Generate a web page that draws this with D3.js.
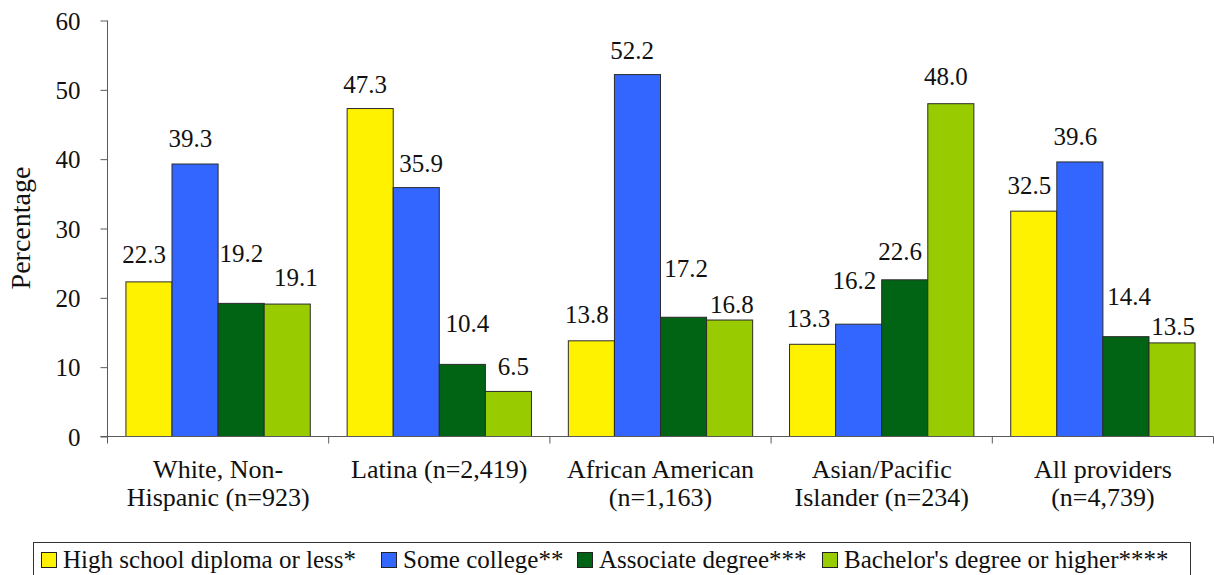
<!DOCTYPE html>
<html>
<head>
<meta charset="utf-8">
<script src="https://cdn.jsdelivr.net/npm/d3@7"></script>
<style>
  html, body { margin: 0; padding: 0; background: #fff; }
  svg { display: block; font-family: "Liberation Serif", "Times New Roman", serif; }
</style>
</head>
<body>
<svg id="chart" width="1214" height="575"></svg>
<script>
// ---- data ----
const categories = ["White", "Latina", "African American", "Asian/Pacific Islander", "All providers"];
const categoryLabels = [
  ["White, Non-", "Hispanic (n=923)"],
  ["Latina (n=2,419)"],
  ["African American", "(n=1,163)"],
  ["Asian/Pacific", "Islander (n=234)"],
  ["All providers", "(n=4,739)"]
];
const seriesNames = ["High school diploma or less*", "Some college**", "Associate degree***", "Bachelor's degree or higher****"];
const highSchool  = [22.3, 47.3, 13.8, 13.3, 32.5];
const someCollege = [39.3, 35.9, 52.2, 16.2, 39.6];
const associate   = [19.2, 10.4, 17.2, 22.6, 14.4];
const bachelor    = [19.1,  6.5, 16.8, 48.0, 13.5];
const yTicks = [0, 10, 20, 30, 40, 50, 60];

// ---- styling / layout constants ----
const seriesColors = ["#FFF200", "#3366FF", "#006414", "#99CC00"];
// label nudges [dx, baseline offset from bar top] per series, per category
const labelNudge = [
  [[-4.8, -18.4], [-5, -15.4], [-4.6, -17.7], [-4.3, -17], [-4.5, -16.7]],
  [[-4.8, -17.3], [5, -15.3], [-5.3, -16], [-4.3, -35], [-4.6, -17.3]],
  [[0.3, -41.7], [5, -32.6], [2.5, -40], [-4.5, -19.7], [3.1, -31.7]],
  [[8.7, -18], [5, -16.7], [2.3, -6.7], [-4.9, -18.7], [1.1, -8.3]]
];
const legendX = [41, 381, 577, 822];

const seriesValues = [highSchool, someCollege, associate, bachelor];
const rows = categories.map((c, i) => ({
  cat: c, i,
  vals: seriesValues.map((arr, s) => ({ s, v: arr[i] }))
}));

const svg = d3.select("#chart");
const axisColor = "#5a5a5a";

const x0 = d3.scaleBand().domain(categories).range([107.5, 1213.5]).paddingInner(0).paddingOuter(0);
const x1 = d3.scaleBand().domain(d3.range(seriesNames.length)).range([0, x0.bandwidth()])
  .paddingInner(0).paddingOuter(0.4);
const y = d3.scaleLinear().domain([0, 60]).range([436.5, 20.5]);

// bars
const groups = svg.append("g").selectAll("g").data(rows).join("g")
  .attr("transform", d => `translate(${x0(d.cat)},0)`);

groups.selectAll("rect").data(d => d.vals).join("rect")
  .attr("x", d => x1(d.s))
  .attr("y", d => y(d.v))
  .attr("width", x1.bandwidth())
  .attr("height", d => y(0) - y(d.v))
  .attr("fill", d => seriesColors[d.s])
  .attr("stroke", "#2b2b2b")
  .attr("stroke-width", 1);

// value labels
groups.each(function(row) {
  d3.select(this).selectAll("text.val").data(row.vals).join("text")
    .attr("class", "val")
    .attr("x", d => x1(d.s) + x1.bandwidth() / 2 + labelNudge[d.s][row.i][0])
    .attr("y", d => y(d.v) + labelNudge[d.s][row.i][1])
    .attr("text-anchor", "middle")
    .attr("font-size", 25)
    .attr("fill", "#111")
    .text(d => d3.format(".1f")(d.v));
});

// y axis
const yAxis = svg.append("g")
  .attr("transform", `translate(${x0.range()[0]},0)`)
  .call(d3.axisLeft(y).tickValues(yTicks).tickSize(7).tickPadding(20).tickFormat(d3.format("d")));
yAxis.select(".domain").attr("stroke", axisColor).attr("d", `M0,${y(60)}V${y(0)}`);
yAxis.selectAll(".tick line").attr("stroke", axisColor);
yAxis.selectAll(".tick text").attr("font-size", 25).attr("fill", "#111")
  .attr("font-family", "Liberation Serif").attr("dy", "0.34em");

// x axis
const xAxis = svg.append("g").attr("transform", `translate(0,${y(0)})`);
xAxis.append("line")
  .attr("x1", x0.range()[0] - 7).attr("x2", x0.range()[1])
  .attr("y1", 0).attr("y2", 0)
  .attr("stroke", axisColor);
const boundaries = categories.map(c => x0(c)).concat([x0(categories[categories.length - 1]) + x0.bandwidth()]);
xAxis.selectAll("line.bt").data(boundaries).join("line")
  .attr("class", "bt")
  .attr("x1", d => d).attr("x2", d => d)
  .attr("y1", 0).attr("y2", 7)
  .attr("stroke", axisColor);

// category labels
const catText = svg.append("g").selectAll("text").data(categories).join("text")
  .attr("x", (d) => x0(d) + x0.bandwidth() / 2)
  .attr("y", 478)
  .attr("text-anchor", "middle")
  .attr("font-size", 26)
  .attr("fill", "#111");
catText.each(function(d, i) {
  d3.select(this).selectAll("tspan").data(categoryLabels[i]).join("tspan")
    .attr("x", x0(d) + x0.bandwidth() / 2)
    .attr("dy", (t, j) => j === 0 ? 0 : 28)
    .text(t => t);
});

// y axis title
svg.append("text")
  .attr("transform", "translate(30,228) rotate(-90)")
  .attr("text-anchor", "middle")
  .attr("font-size", 28)
  .attr("fill", "#111")
  .text("Percentage");

// legend
const legend = svg.append("g");
legend.append("rect")
  .attr("x", 33.5).attr("y", 542.5)
  .attr("width", 1157).attr("height", 60)
  .attr("fill", "#fff").attr("stroke", "#333");
const li = legend.selectAll("g.li").data(seriesNames).join("g")
  .attr("class", "li")
  .attr("transform", (d, i) => `translate(${legendX[i]},0)`);
li.append("rect")
  .attr("x", 0.5).attr("y", 552.5).attr("width", 15).attr("height", 15)
  .attr("fill", (d, i) => seriesColors[i])
  .attr("stroke", "#222");
li.append("text")
  .attr("x", 22).attr("y", 567.5)
  .attr("font-size", 25)
  .attr("fill", "#111")
  .text(d => d);
</script>
</body>
</html>
